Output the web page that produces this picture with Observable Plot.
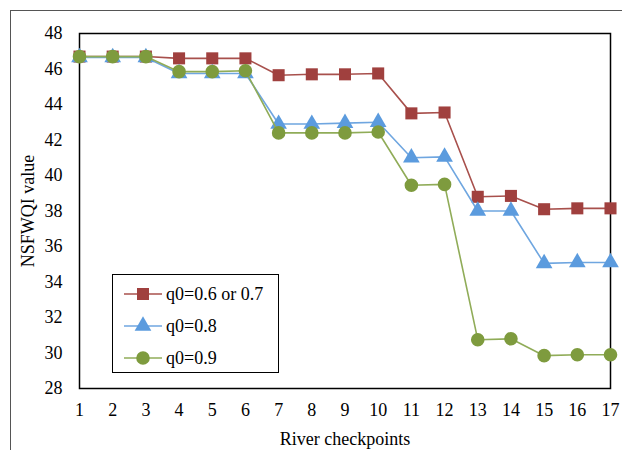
<!DOCTYPE html>
<html>
<head>
<meta charset="utf-8">
<script src="https://cdn.jsdelivr.net/npm/d3@7"></script>
<script src="https://cdn.jsdelivr.net/npm/@observablehq/plot@0.6"></script>
<style>
  body { margin: 0; background: #fff; font-family: "Liberation Serif", "Times New Roman", serif; }
  #chart svg, #chart svg text { font-family: "Liberation Serif", "Times New Roman", serif !important; font-size: 18px; }
  #wrap { position: relative; width: 622px; height: 450px; overflow: hidden; }
  #outer { position: absolute; left: 10px; top: 10px; width: 700px; height: 500px; border-left: 1.5px solid #555; border-top: 1.5px solid #555; box-sizing: border-box; }
  #legend { position: absolute; left: 112px; top: 274px; width: 167px; height: 99px; border: 1.3px solid #000; box-sizing: border-box; background: #fff; }
  .row { position: absolute; left: 10px; height: 20px; display: flex; align-items: center; font-size: 18px; color: #000; font-family: "Liberation Serif", serif; }
  .row svg { margin-right: 3px; }
</style>
</head>
<body>
<div id="wrap">
  <div id="outer"></div>
  <div id="chart"></div>
  <div id="legend"></div>
</div>
<script>
const checkpoints = [1,2,3,4,5,6,7,8,9,10,11,12,13,14,15,16,17];
const seriesNames = ["q0=0.6 or 0.7", "q0=0.8", "q0=0.9"];
const q06 = [46.7,46.7,46.7,46.6,46.6,46.6,45.65,45.7,45.7,45.75,43.5,43.55,38.8,38.85,38.1,38.15,38.15];
const q08 = [46.65,46.65,46.65,45.75,45.75,45.75,42.9,42.9,42.95,43.0,41.0,41.05,38.0,38.0,35.05,35.1,35.1];
const q09 = [46.7,46.7,46.7,45.85,45.85,45.9,42.4,42.4,42.4,42.45,39.45,39.5,30.75,30.8,29.85,29.9,29.9];
const yTicks = [28,30,32,34,36,38,40,42,44,46,48];
const colors = ["#A0403E", "#5B9BDE", "#7E9B3E"];
const lineColors = ["#A8504C", "#6FA6E0", "#90AC58"];
const symbols = ["square", "triangle", "circle"];
const radii = [6.8, 6.2, 6.8];

const allSeries = [q06, q08, q09];
const data = [];
allSeries.forEach((vals, s) => vals.forEach((v, i) => data.push({x: checkpoints[i], y: v, s: seriesNames[s]})));

const marks = [];
seriesNames.forEach((name, s) => {
  const d = data.filter(r => r.s === name);
  marks.push(Plot.line(d, {x: "x", y: "y", stroke: lineColors[s], strokeWidth: 1.6}));
  marks.push(Plot.dot(d, {x: "x", y: "y", symbol: () => symbols[s], r: radii[s], fill: colors[s], stroke: "none"}));
});

const chart = Plot.plot({
  width: 622, height: 450,
  marginLeft: 79, marginRight: 12, marginTop: 33, marginBottom: 62,
  style: {fontFamily: "'Liberation Serif', 'Times New Roman', serif", fontSize: "18px", color: "#000", background: "transparent"},
  x: {domain: [1, 17], ticks: checkpoints, tickFormat: d => String(d), tickSize: 0, tickPadding: 15, label: "River checkpoints", labelAnchor: "center", labelArrow: "none", labelOffset: 56},
  y: {domain: [28, 48], ticks: yTicks, tickFormat: d => String(d), tickSize: 0, tickPadding: 17, label: "NSFWQI value", labelAnchor: "center", labelArrow: "none", labelOffset: 58},
  symbol: {domain: symbols, range: symbols},
  marks: [
    Plot.frame({stroke: "#000", strokeWidth: 1.5}),
    ...marks
  ]
});
document.getElementById("chart").appendChild(chart);

// legend
const legend = document.getElementById("legend");
const rowTops = [9, 41, 73];
seriesNames.forEach((name, s) => {
  const row = document.createElement("div");
  row.className = "row";
  row.style.top = rowTops[s] + "px";
  const sym = d3.symbol(s === 0 ? d3.symbolSquare : s === 1 ? d3.symbolTriangle : d3.symbolCircle, Math.PI * radii[s] * radii[s])();
  row.innerHTML = `<svg width="40" height="20"><line x1="1" x2="39" y1="10" y2="10" stroke="${lineColors[s]}" stroke-width="1.6"/><path d="${sym}" transform="translate(20,10)" fill="${colors[s]}"/></svg><span>${name}</span>`;
  legend.appendChild(row);
});
</script>
</body>
</html>
